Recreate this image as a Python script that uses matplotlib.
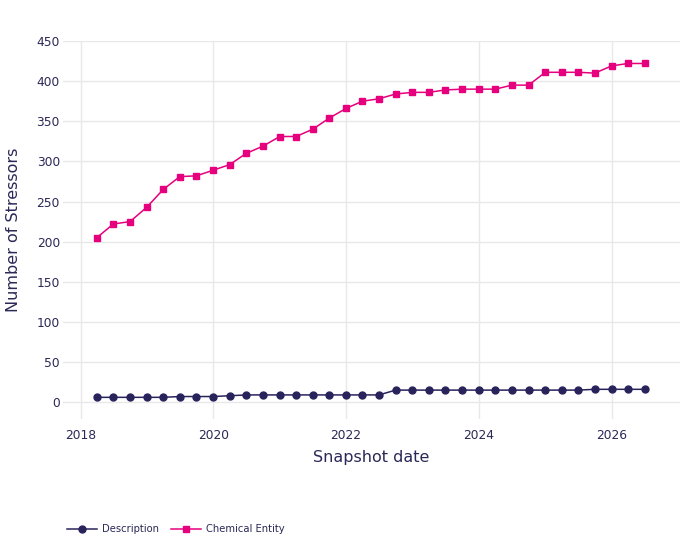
import matplotlib
matplotlib.use("Agg")
import matplotlib.pyplot as plt
import matplotlib.dates as mdates
import numpy as np
import pandas as pd

dates = pd.date_range("2018-04-01", "2026-07-01", freq="QS")
description = [6, 6, 6, 6, 6, 7, 7, 7, 8, 9, 9, 9, 9, 9, 9, 9, 9, 9,
               15, 15, 15, 15, 15, 15, 15, 15, 15, 15, 15, 15, 16, 16, 16, 16]
chemical = [205, 222, 225, 243, 265, 281, 282, 289, 296, 310, 319, 331, 331, 340,
            354, 366, 375, 378, 384, 386, 386, 389, 390, 390, 390, 395, 395,
            411, 411, 411, 410, 419, 422, 422]
series_names = ["Description", "Chemical Entity"]
yticks = [0, 50, 100, 150, 200, 250, 300, 350, 400, 450]

TXT = "#2a2857"
NAVY = "#29235c"
MAG = "#e6007e"
GRID = "#e8e8e8"

plt.rcParams['font.family'] = ['DejaVu Sans']
fig = plt.figure(figsize=(7, 5.6), dpi=100)
ax = fig.add_axes([62.7/700, 1-419/560, (680-62.7)/700, (419-41)/560])

ax.plot(dates, description, color=NAVY, lw=1.1, marker='o', ms=5.0, label=series_names[0], zorder=3)
ax.plot(dates, chemical, color=MAG, lw=1.1, marker='s', ms=4.8, label=series_names[1], zorder=3)

ax.set_ylim(-21, 450)
ax.set_xlim(pd.Timestamp("2017-09-25"), pd.Timestamp("2027-01-12"))
ax.set_yticks(yticks)
ax.xaxis.set_major_locator(mdates.YearLocator(2))
ax.xaxis.set_major_formatter(mdates.DateFormatter("%Y"))

ax.grid(True, color=GRID, lw=1)
ax.set_axisbelow(True)
for s in ax.spines.values():
    s.set_visible(False)
ax.tick_params(axis='both', length=0, labelsize=8.8, colors=TXT)
ax.tick_params(axis='y', pad=2)
ax.tick_params(axis='x', pad=7)
ax.set_xlabel("Snapshot date", fontsize=11.5, color=TXT, labelpad=6)
ax.yaxis.set_label_coords(-(62.7-14)/617.3, 0.5)
ax.set_ylabel("Number of Stressors", fontsize=11.5, color=TXT, va='center')

leg = fig.legend(loc='center left', bbox_to_anchor=(58/700, 1-529/560), ncol=2, frameon=False,
                 fontsize=7.2, handlelength=3.0, handletextpad=0.5, columnspacing=1.2,
                 labelcolor=TXT)
for h in leg.legend_handles:
    h.set_markersize(5.0)

fig.savefig("out.png", dpi=100, facecolor="white")
